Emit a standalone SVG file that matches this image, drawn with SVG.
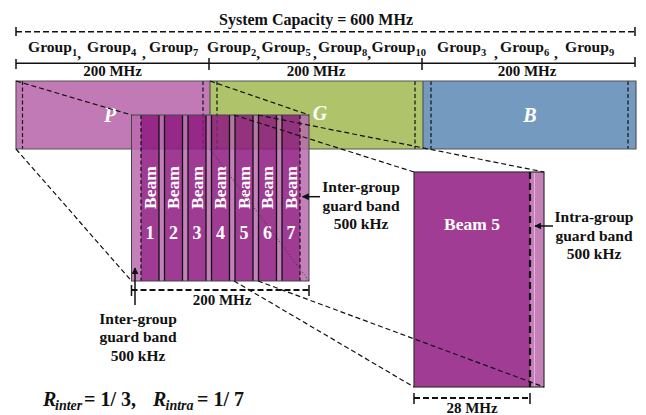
<svg xmlns="http://www.w3.org/2000/svg" width="646" height="415" viewBox="0 0 646 415">
<style>
text{font-family:"Liberation Serif","Times New Roman",serif;font-weight:bold;fill:#111}
.t16{font-size:16px}
.g16{font-size:15.6px}
.t15{font-size:15px}
.lab{font-size:15.5px;text-anchor:middle}
.sub{font-size:10.5px}
.wt{fill:#fff}
.ital{font-style:italic}
.dash{fill:none;stroke:#111;stroke-width:1.2;stroke-dasharray:5 3}
.vdash{fill:none;stroke:#111;stroke-width:1.2;stroke-dasharray:4 2.5}
.solid{fill:none;stroke:#111;stroke-width:1.5}
.edge{stroke:#111;stroke-width:1.3}
.beam{fill:#8f1a81}
.arrow{fill:none;stroke:#111;stroke-width:1.5;marker-end:url(#ah)}
</style>
<defs>
<marker id="ah" viewBox="0 0 10 10" refX="9" refY="5" markerWidth="7" markerHeight="7" markerUnits="userSpaceOnUse" orient="auto">
<path d="M0,0 L10,5 L0,10 z" fill="#111"/>
</marker>
</defs>
<rect width="646" height="415" fill="#fff"/>

<g id="capacity">
<path d="M16,31.7 H635" fill="none" stroke="#111" stroke-width="1.5" stroke-dasharray="6 3"/>
<path d="M16,27 V36 M635,27 V36" class="solid"/>
<text class="t16" x="316" y="25" text-anchor="middle">System Capacity = 600 MHz</text>
</g>

<g id="group-labels">
<text class="g16"><tspan x="28" y="52">Group</tspan><tspan class="sub" y="56">1</tspan><tspan y="58">,</tspan><tspan x="87" y="52">Group</tspan><tspan class="sub" y="56">4</tspan><tspan x="142" y="58">,</tspan><tspan x="149" y="52">Group</tspan><tspan class="sub" y="56">7</tspan></text>
<text class="g16"><tspan x="207" y="52">Group</tspan><tspan class="sub" y="56">2</tspan><tspan y="58">,</tspan><tspan x="261.5" y="52">Group</tspan><tspan class="sub" y="56">5</tspan><tspan x="313" y="58">,</tspan><tspan x="318" y="52">Group</tspan><tspan class="sub" y="56">8</tspan><tspan y="58">,</tspan><tspan x="371.5" y="52">Group</tspan><tspan class="sub" y="56">10</tspan></text>
<text class="g16"><tspan x="437" y="52">Group</tspan><tspan class="sub" y="56">3</tspan><tspan x="494" y="58">,</tspan><tspan x="500" y="52">Group</tspan><tspan class="sub" y="56">6</tspan><tspan x="554" y="58">,</tspan><tspan x="565" y="52">Group</tspan><tspan class="sub" y="56">9</tspan></text>
<path d="M16,63.3 H635 M16,59 V69 M209,58 V70 M422,58 V70 M635,57 V67" class="solid"/>
<text class="t15" x="112.5" y="76" text-anchor="middle">200 MHz</text>
<text class="t15" x="316" y="76" text-anchor="middle">200 MHz</text>
<text class="t15" x="527" y="76" text-anchor="middle">200 MHz</text>
</g>

<g id="band-P">
<rect x="16" y="81" width="194" height="68" fill="#c27ab6"/>
<path d="M22.5,81 V149 M203,81 V149" class="vdash"/>
<text class="ital wt" x="110" y="121.5" font-size="20" text-anchor="middle">P</text>
</g>
<g id="band-G">
<rect x="210" y="81" width="213" height="68" fill="#aec36a"/>
<path d="M217,81 V149 M415,81 V149" class="vdash"/>
<text class="ital wt" x="320" y="120" font-size="20" text-anchor="middle">G</text>
</g>
<g id="band-B">
<rect x="423" y="81" width="213" height="68" fill="#749bbf"/>
<path d="M431,81 V149 M628,81 V149" class="vdash"/>
<text class="ital wt" x="530" y="121.5" font-size="20" text-anchor="middle">B</text>
</g>
<path d="M16,81 H636 V149 H16 Z M210,81 V149 M423,81 V149" fill="none" stroke="#555" stroke-width="1.2"/>

<g id="beam-group">
<g opacity="0.85">
<rect x="131.5" y="115" width="177.5" height="166" fill="#b96aae"/>
<rect class="beam" x="141" y="115" width="18" height="166"/>
<rect class="beam" x="164.5" y="115" width="18" height="166"/>
<rect class="beam" x="188" y="115" width="18" height="166"/>
<rect class="beam" x="211.5" y="115" width="18" height="166"/>
<rect class="beam" x="235" y="115" width="18" height="166"/>
<rect class="beam" x="258.5" y="115" width="18" height="166"/>
<rect class="beam" x="282" y="115" width="18" height="166"/>
</g>
<path class="edge" d="M159,115 V281 M164.5,115 V281 M182.5,115 V281 M188,115 V281 M206,115 V281 M211.5,115 V281 M229.5,115 V281 M235,115 V281 M253,115 V281 M258.5,115 V281 M276.5,115 V281 M282,115 V281"/>
<path d="M141,115 V281 M300,115 V281" class="vdash"/>
<rect x="131.5" y="115" width="177.5" height="166" fill="none" stroke="#444" stroke-width="1"/>
<g font-size="17.5" text-anchor="middle">
<text class="wt" transform="translate(155.8,187.5) rotate(-90)">Beam</text>
<text class="wt" transform="translate(179.3,187.5) rotate(-90)">Beam</text>
<text class="wt" transform="translate(202.8,187.5) rotate(-90)">Beam</text>
<text class="wt" transform="translate(226.3,187.5) rotate(-90)">Beam</text>
<text class="wt" transform="translate(249.8,187.5) rotate(-90)">Beam</text>
<text class="wt" transform="translate(273.3,187.5) rotate(-90)">Beam</text>
<text class="wt" transform="translate(296.8,187.5) rotate(-90)">Beam</text>
</g>
<g font-size="18" text-anchor="middle">
<text class="wt" x="150" y="238.5">1</text>
<text class="wt" x="173.5" y="238.5">2</text>
<text class="wt" x="197" y="238.5">3</text>
<text class="wt" x="220.5" y="238.5">4</text>
<text class="wt" x="244" y="238.5">5</text>
<text class="wt" x="267.5" y="238.5">6</text>
<text class="wt" x="291" y="238.5">7</text>
</g>
<path d="M131.5,290 H309" fill="none" stroke="#111" stroke-width="1.8" stroke-dasharray="6 3"/>
<path d="M131.5,285 V296 M309,285 V296" class="solid"/>
<text class="t15" x="222" y="305" text-anchor="middle">200 MHz</text>
</g>

<g id="beam5">
<rect x="414" y="172" width="116" height="215" fill="#a03c94"/>
<rect x="530" y="172" width="14" height="215" fill="#c680b9"/>
<path d="M534.5,172 V387" stroke="#e2b4da" stroke-width="1"/>
<rect x="414" y="172" width="130" height="215" fill="none" stroke="#333" stroke-width="1.2"/>
<path d="M530,172 V387" fill="none" stroke="#111" stroke-width="2.2" stroke-dasharray="7 4"/>
<text class="wt" x="472" y="229.5" font-size="17.5" text-anchor="middle">Beam 5</text>
<path d="M414,398 H530" fill="none" stroke="#111" stroke-width="1.8" stroke-dasharray="6 3"/>
<path d="M414,393 V404 M530,393 V404" class="solid"/>
<text class="t15" x="472" y="412.5" text-anchor="middle">28 MHz</text>
</g>

<g id="label-inter-left">
<text class="lab" x="138" y="324">Inter-group</text>
<text class="lab" x="138" y="342">guard band</text>
<text class="lab" x="138" y="360.5">500 kHz</text>
</g>
<g id="label-inter-right">
<text class="lab" x="361" y="191.5">Inter-group</text>
<text class="lab" x="361" y="210.5">guard band</text>
<text class="lab" x="361" y="229">500 kHz</text>
</g>
<g id="label-intra">
<text class="lab" x="594" y="221.5">Intra-group</text>
<text class="lab" x="594" y="240.5">guard band</text>
<text class="lab" x="594" y="258.5">500 kHz</text>
</g>

<g id="formula">
<text font-size="20"><tspan x="43" y="406" class="ital">R</tspan><tspan x="55" y="410" class="ital" font-size="14">inter</tspan><tspan x="84" y="406">= 1/ 3,</tspan><tspan x="153" y="406" class="ital">R</tspan><tspan x="165.5" y="410" class="ital" font-size="14">intra</tspan><tspan x="197" y="406">= 1/ 7</tspan></text>
</g>

<g id="connectors">
<path class="dash" d="M16,81 L131.5,115"/>
<path class="dash" d="M16,149 L131.5,281"/>
<path class="dash" d="M210,81 L309,115"/>
<path d="M210,149 L309,281" fill="none" stroke="#333" stroke-width="0.9" stroke-dasharray="1.2 2"/>
<path class="dash" d="M234,115 L414,172"/>
<path class="dash" d="M258,115 L544,172"/>
<path class="dash" d="M234,281 L414,387"/>
<path class="dash" d="M258,281 L544,387"/>
<path class="arrow" d="M135,305 V268"/>
<path class="arrow" d="M320,196.7 H302.5"/>
<path class="arrow" d="M553,226 H535"/>
</g>
</svg>
